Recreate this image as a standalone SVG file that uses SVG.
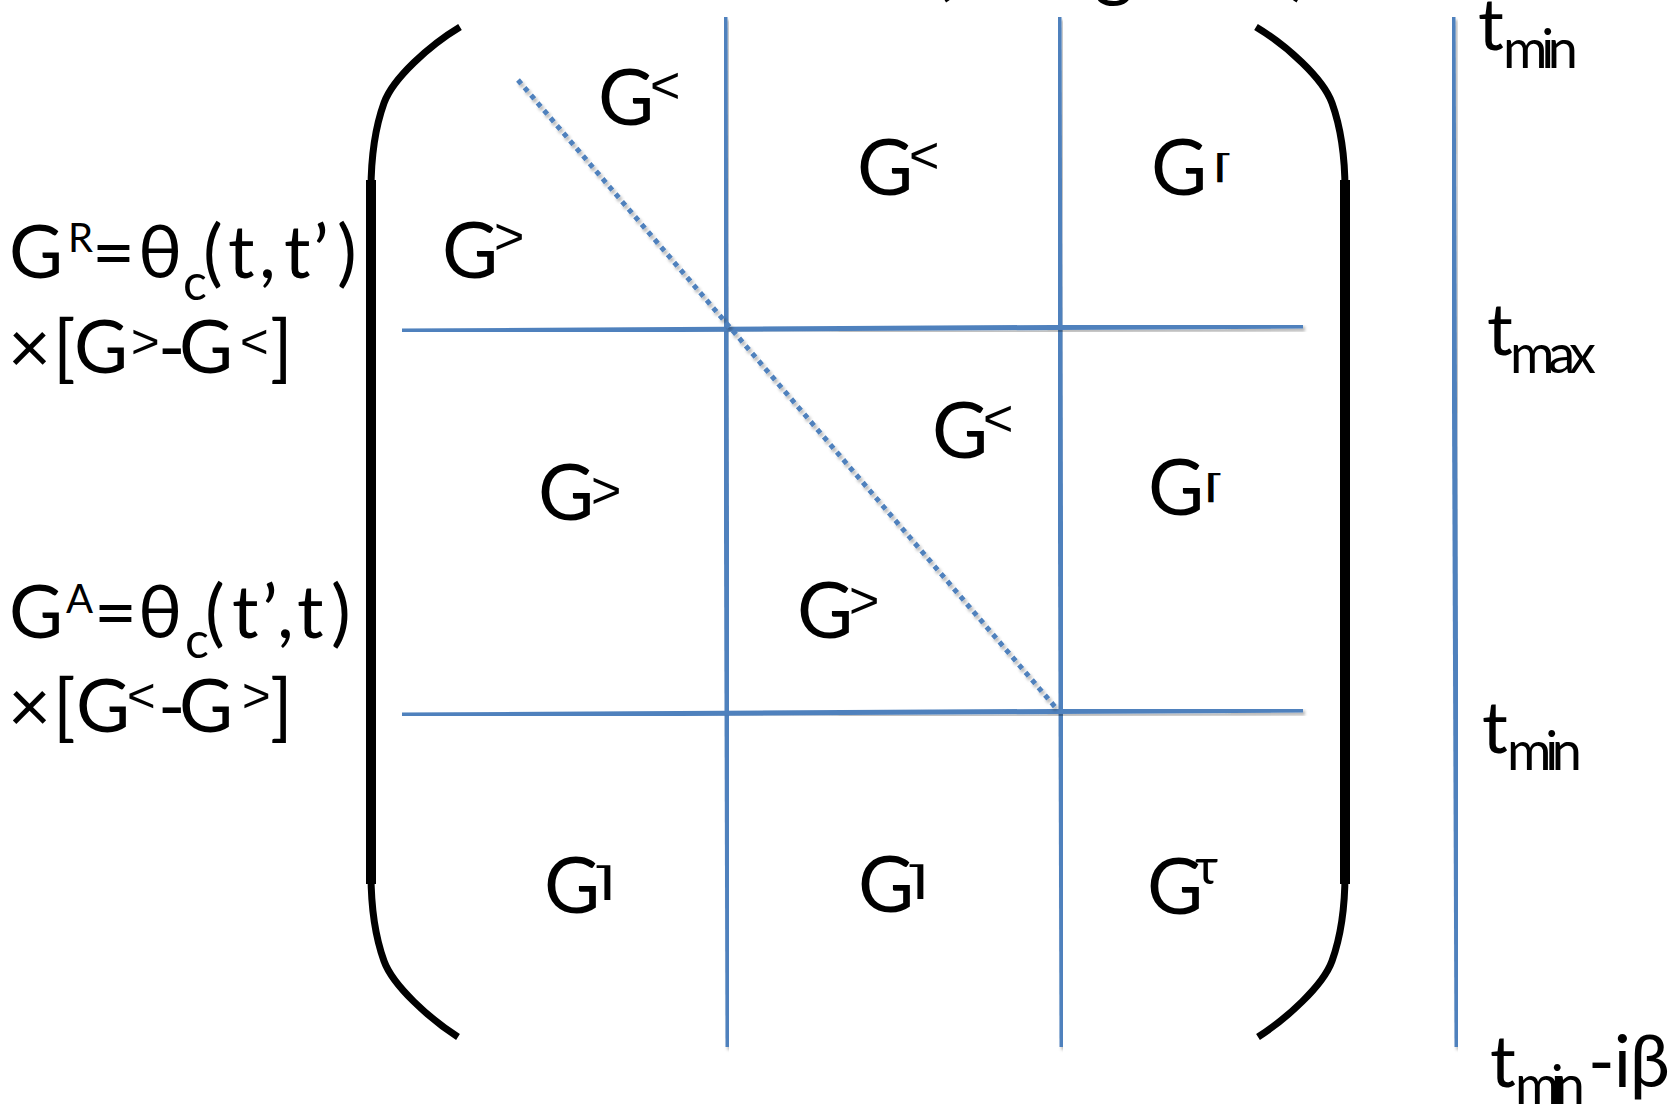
<svg xmlns="http://www.w3.org/2000/svg" width="1679" height="1106" viewBox="0 0 1679 1106">
<style>
.tx{font-family:Lato,"Open Sans","DejaVu Sans",sans-serif;fill:#000}
.m{font-size:77px}
.l{font-size:74px}
.sp{font-family:"Liberation Sans",sans-serif;font-size:52px}
.sq{font-family:"Liberation Sans",sans-serif;font-size:49px;fill:#000}
.sr{font-size:40px}
.sb{font-size:50px}
.tm{font-size:72px}
.ts{font-size:54px}
.br{font-family:"DejaVu Sans",sans-serif}
.blue{stroke:#4F81BD;stroke-width:5;fill:none;filter:url(#sh)}
.par{stroke:#000;fill:none}
</style>
<defs>
<filter id="sh" x="-5%" y="-5%" width="110%" height="110%">
<feDropShadow dx="2" dy="3" stdDeviation="1.5" flood-color="#000" flood-opacity="0.28"/>
</filter>
</defs>
<rect width="1679" height="1106" fill="#fff"/>

<g id="top-clipped">
<text class="tx m" y="-9"><tspan x="932">(</tspan><tspan x="1094">g</tspan><tspan x="1290">)</tspan></text>
</g>

<g id="brackets">
<path class="par" stroke-width="7" d="M460,27 C430,45 393,78 384,103 C375,128 371,160 371,190"/>
<line class="par" stroke-width="10" x1="371" y1="180" x2="371" y2="884"/>
<path class="par" stroke-width="7" d="M371,874 C371,904 375,936 384,961 C393,986 430,1019 458,1037"/>
<path class="par" stroke-width="7" d="M1256,27 C1286,45 1323,78 1332,103 C1341,128 1345,160 1345,190"/>
<line class="par" stroke-width="10" x1="1345" y1="180" x2="1345" y2="884"/>
<path class="par" stroke-width="7" d="M1345,874 C1345,904 1341,936 1332,961 C1323,986 1286,1019 1258,1037"/>
</g>

<g id="connectors">
<line class="blue" x1="725" y1="17" x2="728" y2="1047"/>
<line class="blue" x1="1059" y1="17" x2="1062" y2="1047"/>
<line class="blue" x1="1453" y1="17" x2="1457" y2="1047"/>
<line class="blue" stroke-width="5.5" x1="402" y1="331" x2="1303" y2="326"/>
<line class="blue" stroke-width="5.5" x1="402" y1="715" x2="1303" y2="710"/>
<line class="blue" stroke-width="6" stroke-dasharray="5 5" x1="518" y1="80" x2="1056" y2="708"/>
</g>

<g id="cell-lesser-1"><text class="tx m" x="598" y="125">G<tspan class="sp" x="650" y="103">&lt;</tspan></text></g>
<g id="cell-greater-1"><text class="tx m" x="442" y="278">G<tspan class="sp" x="494" y="254">&gt;</tspan></text></g>
<g id="cell-lesser-2"><text class="tx m" x="857" y="195">G<tspan class="sp" x="909" y="173">&lt;</tspan></text></g>
<g id="cell-mix-1"><text class="tx m" x="1151" y="195">G<tspan class="br" font-size="33" x="1212" y="178" textLength="23" lengthAdjust="spacingAndGlyphs">⌈</tspan></text></g>
<g id="cell-lesser-3"><text class="tx m" x="932" y="458">G<tspan class="sp" x="983" y="436">&lt;</tspan></text></g>
<g id="cell-greater-2"><text class="tx m" x="538" y="520">G<tspan class="sp" x="591" y="508">&gt;</tspan></text></g>
<g id="cell-mix-2"><text class="tx m" x="1148" y="515">G<tspan class="br" font-size="33" x="1203" y="498" textLength="23" lengthAdjust="spacingAndGlyphs">⌈</tspan></text></g>
<g id="cell-greater-3"><text class="tx m" x="797" y="638">G<tspan class="sp" x="849" y="618">&gt;</tspan></text></g>
<g id="cell-mix-3"><text class="tx m" x="544" y="913">G<tspan class="br" font-size="39" x="590" y="895" textLength="26" lengthAdjust="spacingAndGlyphs">⌉</tspan></text></g>
<g id="cell-mix-4"><text class="tx m" x="858" y="912">G<tspan class="br" font-size="39" x="903" y="894" textLength="26" lengthAdjust="spacingAndGlyphs">⌉</tspan></text></g>
<g id="cell-tau"><text class="tx m" x="1147" y="914">G<tspan class="sb" x="1195" y="884">τ</tspan></text></g>

<g id="label-retarded">
<text class="tx l" y="278"><tspan x="9">G</tspan><tspan class="sr" x="68" y="252">R</tspan><tspan x="92 138" y="278">=θ</tspan><tspan class="sb" x="183" y="300">c</tspan><tspan x="203 228 259 284 313 337" y="278">(t,t’)</tspan></text>
<text class="tx l" y="373"><tspan x="8 53 74">×[G</tspan><tspan class="sq" x="131" y="358">&gt;</tspan><tspan x="158 179" y="373">-G</tspan></text>
<text class="sq" x="240" y="358">&lt;</text>
<text class="tx l" x="270" y="373">]</text>
</g>
<g id="label-advanced">
<text class="tx l" y="638"><tspan x="9">G</tspan><tspan class="sr" x="66" y="613">A</tspan><tspan x="94 138" y="638">=θ</tspan><tspan class="sb" x="185" y="658">c</tspan><tspan x="205 232 262 277 297 331" y="638">(t’,t)</tspan></text>
<text class="tx l" y="732"><tspan x="8 53 76">×[G</tspan><tspan class="sq" x="127" y="712">&lt;</tspan><tspan x="158 179" y="732">-G</tspan></text>
<text class="sq" x="242" y="712">&gt;</text>
<text class="tx l" x="270" y="732">]</text>
</g>

<g id="time-tmin-top"><text class="tx tm" x="1478" y="50">t<tspan class="ts" x="1503" y="68" textLength="75">min</tspan></text></g>
<g id="time-tmax"><text class="tx tm" x="1487" y="355">t<tspan class="ts" x="1510" y="373" textLength="86">max</tspan></text></g>
<g id="time-tmin-mid"><text class="tx tm" x="1482" y="753">t<tspan class="ts" x="1507" y="770" textLength="75">min</tspan></text></g>
<g id="time-tmin-beta"><text class="tx tm" x="1490" y="1087">t<tspan class="ts" x="1515" y="1104" textLength="70">min</tspan><tspan x="1588" y="1087" textLength="82">-iβ</tspan></text></g>
</svg>
